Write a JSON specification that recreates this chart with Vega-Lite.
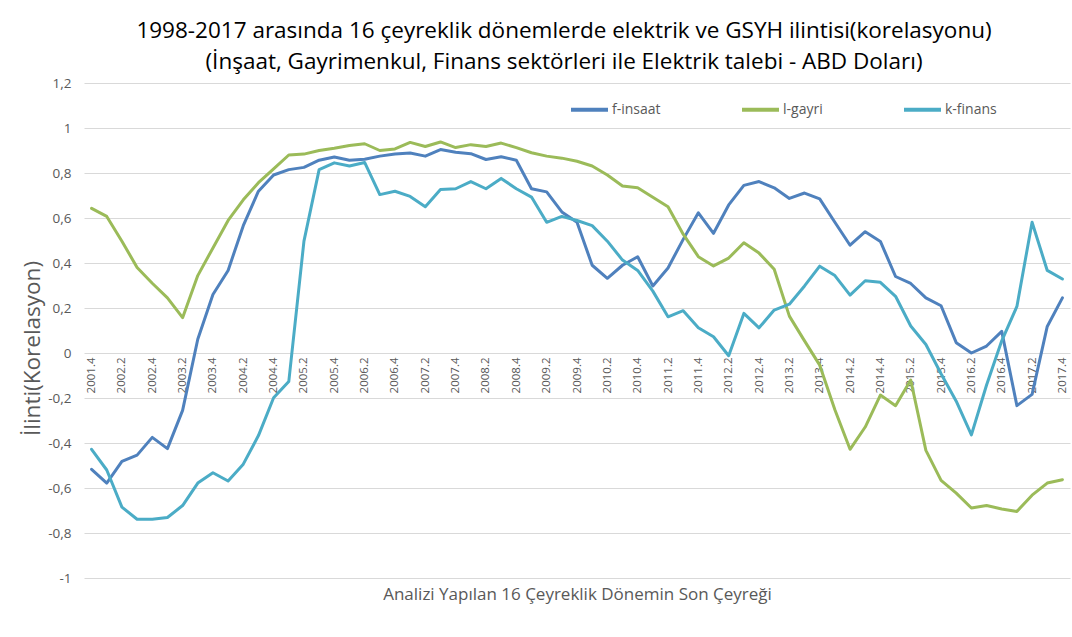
{
  "$schema": "https://vega.github.io/schema/vega-lite/v6.json",
  "autosize": "none",
  "width": 986,
  "height": 495,
  "padding": {"left": 84, "top": 83, "right": 2, "bottom": 59},
  "background": "white",
  "title": {
    "text": ["1998-2017 arasında 16 çeyreklik dönemlerde elektrik ve GSYH ilintisi(korelasyonu)", "(İnşaat, Gayrimenkul, Finans sektörleri ile Elektrik talebi - ABD Doları)"],
    "font": "Open Sans", "fontSize": 22.5, "fontWeight": "normal", "color": "#000000",
    "anchor": "middle", "frame": "group", "offset": 3, "lineHeight": 31, "dx": -13
  },
  "config": {
    "view": {"stroke": null},
    "font": "Open Sans"
  },
  "data": {"values": [
    {"q":"2001.4","f-insaat":-0.517,"l-gayri":0.643,"k-finans":-0.428},
    {"q":"2002.1","f-insaat":-0.578,"l-gayri":0.607,"k-finans":-0.52},
    {"q":"2002.2","f-insaat":-0.482,"l-gayri":0.497,"k-finans":-0.685},
    {"q":"2002.3","f-insaat":-0.454,"l-gayri":0.38,"k-finans":-0.739},
    {"q":"2002.4","f-insaat":-0.375,"l-gayri":0.31,"k-finans":-0.739},
    {"q":"2003.1","f-insaat":-0.425,"l-gayri":0.245,"k-finans":-0.731},
    {"q":"2003.2","f-insaat":-0.255,"l-gayri":0.157,"k-finans":-0.678},
    {"q":"2003.3","f-insaat":0.061,"l-gayri":0.344,"k-finans":-0.578},
    {"q":"2003.4","f-insaat":0.26,"l-gayri":0.467,"k-finans":-0.532},
    {"q":"2004.1","f-insaat":0.367,"l-gayri":0.589,"k-finans":-0.569},
    {"q":"2004.2","f-insaat":0.566,"l-gayri":0.681,"k-finans":-0.494},
    {"q":"2004.3","f-insaat":0.719,"l-gayri":0.757,"k-finans":-0.367},
    {"q":"2004.4","f-insaat":0.791,"l-gayri":0.818,"k-finans":-0.199},
    {"q":"2005.1","f-insaat":0.815,"l-gayri":0.88,"k-finans":-0.127},
    {"q":"2005.2","f-insaat":0.825,"l-gayri":0.884,"k-finans":0.497},
    {"q":"2005.3","f-insaat":0.857,"l-gayri":0.9,"k-finans":0.815},
    {"q":"2005.4","f-insaat":0.871,"l-gayri":0.91,"k-finans":0.845},
    {"q":"2006.1","f-insaat":0.857,"l-gayri":0.922,"k-finans":0.831},
    {"q":"2006.2","f-insaat":0.861,"l-gayri":0.93,"k-finans":0.847},
    {"q":"2006.3","f-insaat":0.875,"l-gayri":0.9,"k-finans":0.704},
    {"q":"2006.4","f-insaat":0.884,"l-gayri":0.907,"k-finans":0.719},
    {"q":"2007.1","f-insaat":0.889,"l-gayri":0.936,"k-finans":0.696},
    {"q":"2007.2","f-insaat":0.875,"l-gayri":0.918,"k-finans":0.65},
    {"q":"2007.3","f-insaat":0.904,"l-gayri":0.938,"k-finans":0.727},
    {"q":"2007.4","f-insaat":0.892,"l-gayri":0.913,"k-finans":0.73},
    {"q":"2008.1","f-insaat":0.886,"l-gayri":0.926,"k-finans":0.762},
    {"q":"2008.2","f-insaat":0.86,"l-gayri":0.918,"k-finans":0.73},
    {"q":"2008.3","f-insaat":0.872,"l-gayri":0.933,"k-finans":0.776},
    {"q":"2008.4","f-insaat":0.857,"l-gayri":0.913,"k-finans":0.73},
    {"q":"2009.1","f-insaat":0.73,"l-gayri":0.89,"k-finans":0.693},
    {"q":"2009.2","f-insaat":0.716,"l-gayri":0.875,"k-finans":0.581},
    {"q":"2009.3","f-insaat":0.627,"l-gayri":0.866,"k-finans":0.607},
    {"q":"2009.4","f-insaat":0.581,"l-gayri":0.852,"k-finans":0.589},
    {"q":"2010.1","f-insaat":0.39,"l-gayri":0.831,"k-finans":0.566},
    {"q":"2010.2","f-insaat":0.332,"l-gayri":0.791,"k-finans":0.497},
    {"q":"2010.3","f-insaat":0.39,"l-gayri":0.742,"k-finans":0.413},
    {"q":"2010.4","f-insaat":0.428,"l-gayri":0.734,"k-finans":0.367},
    {"q":"2011.1","f-insaat":0.298,"l-gayri":0.692,"k-finans":0.275},
    {"q":"2011.2","f-insaat":0.378,"l-gayri":0.65,"k-finans":0.161},
    {"q":"2011.3","f-insaat":0.505,"l-gayri":0.528,"k-finans":0.188},
    {"q":"2011.4","f-insaat":0.623,"l-gayri":0.428,"k-finans":0.112},
    {"q":"2012.1","f-insaat":0.532,"l-gayri":0.387,"k-finans":0.072},
    {"q":"2012.2","f-insaat":0.658,"l-gayri":0.422,"k-finans":-0.012},
    {"q":"2012.3","f-insaat":0.745,"l-gayri":0.49,"k-finans":0.176},
    {"q":"2012.4","f-insaat":0.762,"l-gayri":0.444,"k-finans":0.112},
    {"q":"2013.1","f-insaat":0.734,"l-gayri":0.372,"k-finans":0.191},
    {"q":"2013.2","f-insaat":0.687,"l-gayri":0.164,"k-finans":0.217},
    {"q":"2013.3","f-insaat":0.711,"l-gayri":0.054,"k-finans":0.298},
    {"q":"2013.4","f-insaat":0.685,"l-gayri":-0.054,"k-finans":0.386},
    {"q":"2014.1","f-insaat":0.581,"l-gayri":-0.252,"k-finans":0.344},
    {"q":"2014.2","f-insaat":0.479,"l-gayri":-0.428,"k-finans":0.257},
    {"q":"2014.3","f-insaat":0.539,"l-gayri":-0.329,"k-finans":0.321},
    {"q":"2014.4","f-insaat":0.496,"l-gayri":-0.187,"k-finans":0.314},
    {"q":"2015.1","f-insaat":0.34,"l-gayri":-0.234,"k-finans":0.252},
    {"q":"2015.2","f-insaat":0.309,"l-gayri":-0.12,"k-finans":0.12},
    {"q":"2015.3","f-insaat":0.245,"l-gayri":-0.433,"k-finans":0.038},
    {"q":"2015.4","f-insaat":0.21,"l-gayri":-0.566,"k-finans":-0.092},
    {"q":"2016.1","f-insaat":0.046,"l-gayri":-0.623,"k-finans":-0.214},
    {"q":"2016.2","f-insaat":0.0,"l-gayri":-0.689,"k-finans":-0.364},
    {"q":"2016.3","f-insaat":0.031,"l-gayri":-0.678,"k-finans":-0.142},
    {"q":"2016.4","f-insaat":0.096,"l-gayri":-0.693,"k-finans":0.054},
    {"q":"2017.1","f-insaat":-0.234,"l-gayri":-0.704,"k-finans":0.207},
    {"q":"2017.2","f-insaat":-0.184,"l-gayri":-0.632,"k-finans":0.581},
    {"q":"2017.3","f-insaat":0.118,"l-gayri":-0.578,"k-finans":0.367},
    {"q":"2017.4","f-insaat":0.245,"l-gayri":-0.563,"k-finans":0.329}
  ]},
  "transform": [
    {"fold": ["f-insaat", "l-gayri", "k-finans"], "as": ["seri", "deger"]}
  ],
  "mark": {"type": "line", "strokeWidth": 3, "strokeJoin": "round", "strokeCap": "round"},
  "encoding": {
    "x": {
      "field": "q", "type": "ordinal", "sort": null,
      "scale": {"type": "point", "padding": 0.5},
      "axis": {
        "values": ["2001.4","2002.2","2002.4","2003.2","2003.4","2004.2","2004.4","2005.2","2005.4","2006.2","2006.4","2007.2","2007.4","2008.2","2008.4","2009.2","2009.4","2010.2","2010.4","2011.2","2011.4","2012.2","2012.4","2013.2","2013.4","2014.2","2014.4","2015.2","2015.4","2016.2","2016.4","2017.2","2017.4"],
        "offset": -225,
        "labelAngle": -90, "labelFontSize": 11.5, "labelColor": "#595959", "labelPadding": 4,
        "ticks": false, "domain": false, "grid": false,
        "title": "Analizi Yapılan 16 Çeyreklik Dönemin Son Çeyreği",
        "titleFontSize": 17, "titleColor": "#595959", "titleFontWeight": "normal",
        "titleY": 241, "titleBaseline": "middle"
      }
    },
    "y": {
      "field": "deger", "type": "quantitative",
      "scale": {"domain": [-1, 1.2], "nice": false, "zero": false},
      "axis": {
        "values": [-1, -0.8, -0.6, -0.4, -0.2, 0, 0.2, 0.4, 0.6, 0.8, 1, 1.2],
        "labelExpr": "replace(replace(format(datum.value, '.1~f'), '.', ','), '\u2212', '-')",
        "labelFontSize": 13.5, "labelColor": "#595959", "labelPadding": 13,
        "ticks": false, "domain": false,
        "grid": true, "gridColor": "#D9D9D9", "gridWidth": 1,
        "title": "İlinti(Korelasyon)",
        "titleFontSize": 22.5, "titleColor": "#595959", "titleFontWeight": "normal",
        "titleX": -52, "titleY": 265, "titleBaseline": "middle", "titleAnchor": "middle"
      }
    },
    "color": {
      "field": "seri", "type": "nominal",
      "scale": {"domain": ["f-insaat", "l-gayri", "k-finans"], "range": ["#4F81BD", "#9BBB59", "#4BACC6"]},
      "legend": {
        "title": null, "orient": "none", "direction": "horizontal",
        "legendX": 485, "legendY": 6,
        "symbolType": "stroke", "symbolSize": 1369, "symbolStrokeWidth": 4,
        "labelFontSize": 14, "labelColor": "#595959", "labelOffset": 2,
        "columnPadding": 73
      }
    }
  }
}
